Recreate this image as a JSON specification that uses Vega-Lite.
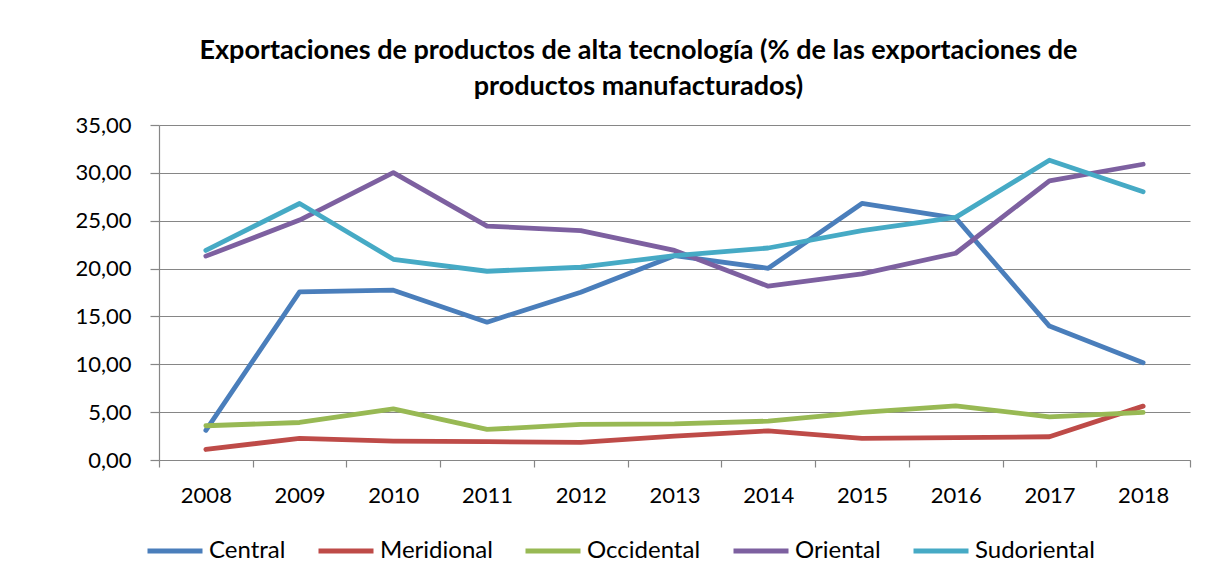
{
  "$schema": "https://vega.github.io/schema/vega-lite/v6.json",
  "width": 1031,
  "height": 335,
  "autosize": {"type": "none"},
  "padding": {"left": 159, "top": 125, "right": 24, "bottom": 123},
  "background": "white",
  "title": {
    "text": ["Exportaciones de productos de alta tecnología (% de las exportaciones de", "productos manufacturados)"],
    "font": "Lato",
    "fontSize": 27,
    "fontWeight": "bold",
    "color": "#000000",
    "lineHeight": 36,
    "anchor": "middle",
    "frame": "group",
    "dx": -36,
    "offset": 13
  },
  "data": {
    "values": [
      {"year": "2008", "region": "Central", "value": 3.1},
      {"year": "2009", "region": "Central", "value": 17.57},
      {"year": "2010", "region": "Central", "value": 17.74},
      {"year": "2011", "region": "Central", "value": 14.4},
      {"year": "2012", "region": "Central", "value": 17.53},
      {"year": "2013", "region": "Central", "value": 21.35},
      {"year": "2014", "region": "Central", "value": 20.03},
      {"year": "2015", "region": "Central", "value": 26.8},
      {"year": "2016", "region": "Central", "value": 25.28},
      {"year": "2017", "region": "Central", "value": 13.99},
      {"year": "2018", "region": "Central", "value": 10.17},
      {"year": "2008", "region": "Meridional", "value": 1.1},
      {"year": "2009", "region": "Meridional", "value": 2.26},
      {"year": "2010", "region": "Meridional", "value": 1.98},
      {"year": "2011", "region": "Meridional", "value": 1.91},
      {"year": "2012", "region": "Meridional", "value": 1.84},
      {"year": "2013", "region": "Meridional", "value": 2.5},
      {"year": "2014", "region": "Meridional", "value": 3.05},
      {"year": "2015", "region": "Meridional", "value": 2.26},
      {"year": "2016", "region": "Meridional", "value": 2.33},
      {"year": "2017", "region": "Meridional", "value": 2.43},
      {"year": "2018", "region": "Meridional", "value": 5.63},
      {"year": "2008", "region": "Occidental", "value": 3.58},
      {"year": "2009", "region": "Occidental", "value": 3.92},
      {"year": "2010", "region": "Occidental", "value": 5.35},
      {"year": "2011", "region": "Occidental", "value": 3.19},
      {"year": "2012", "region": "Occidental", "value": 3.72},
      {"year": "2013", "region": "Occidental", "value": 3.78},
      {"year": "2014", "region": "Occidental", "value": 4.06},
      {"year": "2015", "region": "Occidental", "value": 4.97},
      {"year": "2016", "region": "Occidental", "value": 5.66},
      {"year": "2017", "region": "Occidental", "value": 4.51},
      {"year": "2018", "region": "Occidental", "value": 4.97},
      {"year": "2008", "region": "Oriental", "value": 21.3},
      {"year": "2009", "region": "Oriental", "value": 25.07},
      {"year": "2010", "region": "Oriental", "value": 30.03},
      {"year": "2011", "region": "Oriental", "value": 24.44},
      {"year": "2012", "region": "Oriental", "value": 23.96},
      {"year": "2013", "region": "Oriental", "value": 21.9},
      {"year": "2014", "region": "Oriental", "value": 18.16},
      {"year": "2015", "region": "Oriental", "value": 19.44},
      {"year": "2016", "region": "Oriental", "value": 21.6},
      {"year": "2017", "region": "Oriental", "value": 29.17},
      {"year": "2018", "region": "Oriental", "value": 30.9},
      {"year": "2008", "region": "Sudoriental", "value": 21.9},
      {"year": "2009", "region": "Sudoriental", "value": 26.8},
      {"year": "2010", "region": "Sudoriental", "value": 20.97},
      {"year": "2011", "region": "Sudoriental", "value": 19.72},
      {"year": "2012", "region": "Sudoriental", "value": 20.14},
      {"year": "2013", "region": "Sudoriental", "value": 21.35},
      {"year": "2014", "region": "Sudoriental", "value": 22.15},
      {"year": "2015", "region": "Sudoriental", "value": 23.96},
      {"year": "2016", "region": "Sudoriental", "value": 25.35},
      {"year": "2017", "region": "Sudoriental", "value": 31.32},
      {"year": "2018", "region": "Sudoriental", "value": 28.02}
    ]
  },
  "mark": {"type": "line", "strokeWidth": 4.8, "strokeCap": "round", "strokeJoin": "round"},
  "encoding": {
    "x": {
      "field": "year",
      "type": "ordinal",
      "bandPosition": 0.5,
      "scale": {"type": "band", "paddingInner": 0, "paddingOuter": 0},
      "axis": {
        "title": null,
        "labelAngle": 0,
        "tickBand": "extent",
        "tickSize": 7,
        "labelPadding": 18,
        "grid": false
      }
    },
    "y": {
      "field": "value",
      "type": "quantitative",
      "scale": {"domain": [0, 35], "nice": false},
      "axis": {
        "title": null,
        "values": [0, 5, 10, 15, 20, 25, 30, 35],
        "labelExpr": "replace(format(datum.value, '.2f'), '.', ',')",
        "tickSize": 9,
        "labelPadding": 19,
        "grid": true
      }
    },
    "color": {
      "field": "region",
      "type": "nominal",
      "scale": {
        "domain": ["Central", "Meridional", "Occidental", "Oriental", "Sudoriental"],
        "range": ["#4A7EBB", "#BE4B48", "#98B954", "#7D60A0", "#46AAC5"]
      },
      "legend": {
        "title": null,
        "orient": "none",
        "legendX": -14,
        "legendY": 396,
        "direction": "horizontal",
        "symbolType": "stroke",
        "symbolSize": 3025,
        "symbolStrokeWidth": 5,
        "labelOffset": 4,
        "columnPadding": 22
      }
    }
  },
  "config": {
    "view": {"stroke": null},
    "font": "Lato",
    "axis": {
      "labelFont": "Lato",
      "labelFontSize": 22,
      "labelColor": "#000000",
      "domainColor": "#868686",
      "tickColor": "#868686",
      "gridColor": "#868686",
      "domainWidth": 1.2,
      "tickWidth": 1.2,
      "gridWidth": 1.2
    },
    "legend": {
      "labelFont": "Lato",
      "labelFontSize": 24,
      "labelColor": "#000000"
    }
  }
}
